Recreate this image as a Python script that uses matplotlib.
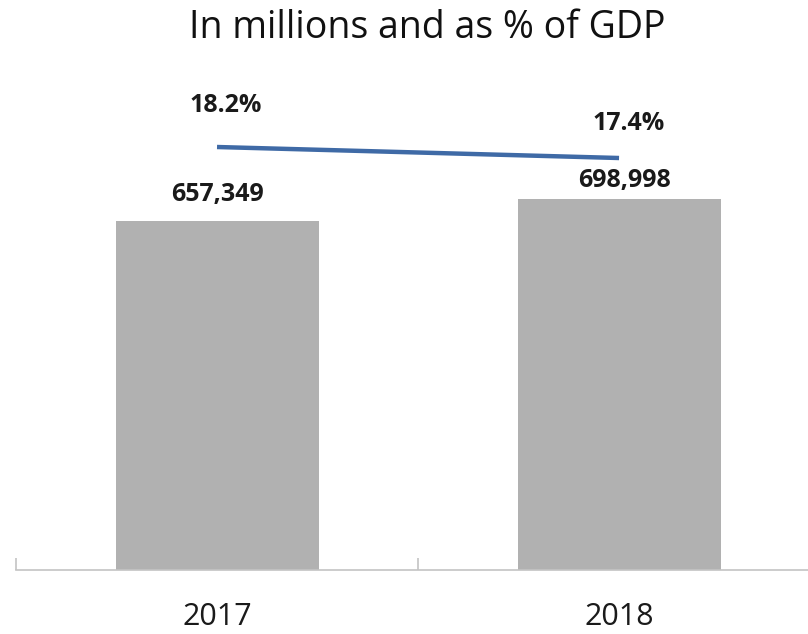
import numpy as np
import matplotlib.pyplot as plt

# spending in millions and as share of GDP
years = ['2017', '2018']
amounts = [657349, 698998]
gdp_share = [18.2, 17.4]

amount_offsets = [(0, 27), (5, 18)]     # px offsets of the value labels from the bar top
share_offsets = [(9, 42), (10, 35)]     # px offsets of the % labels from the line

plt.rcParams['font.family'] = ['Open Sans', 'DejaVu Sans']

fig = plt.figure(figsize=(8.08, 6.34), dpi=100)
ax = fig.add_axes([16 / 808, 64 / 634, 792 / 808, 500 / 634])

x = np.arange(len(years))
bars = ax.bar(x, amounts, width=0.505, color='#b1b1b1', zorder=2)

for xi, val, off in zip(x, amounts, amount_offsets):
    ax.annotate(f'{val:,}', (xi, val), xytext=off, textcoords='offset pixels',
                ha='center', va='center', fontsize=18, fontweight='bold', color='#1a1a1a')

# axis styling: only the baseline with category separators
for side in ['left', 'right', 'top']:
    ax.spines[side].set_visible(False)
ax.spines['bottom'].set_color('#c4c4c4')
ax.spines['bottom'].set_linewidth(1.2)
ax.set_yticks([])
ax.set_xticks(x)
ax.set_xticklabels(years, fontsize=22, color='#1a1a1a')
ax.tick_params(axis='x', which='major', length=0, pad=23)
ax.set_xticks([-0.5, 0.5, 1.5], minor=True)
ax.tick_params(axis='x', which='minor', direction='in', length=9, width=1.2, color='#c4c4c4')
ax.set_xlim(-0.5, 1.47)
ax.set_ylim(0, 942000)

# GDP share on a hidden secondary scale
ax2 = ax.twinx()
ax2.plot(x, gdp_share, color='#3f6aa6', linewidth=3.2, solid_capstyle='butt', zorder=3)
for xi, val, off in zip(x, gdp_share, share_offsets):
    ax2.annotate(f'{val}%', (xi, val), xytext=off, textcoords='offset pixels',
                 ha='center', va='center', fontsize=18, fontweight='bold', color='#1a1a1a')
ax2.set_ylim(-12.56, 23.8)
ax2.axis('off')
ax.set_xlim(-0.5, 1.47)

fig.text(427 / 808, 1 - 28 / 634, 'In millions and as % of GDP', ha='center', va='center',
         fontsize=27, color='#111111')

fig.savefig('out.png', dpi=100)
